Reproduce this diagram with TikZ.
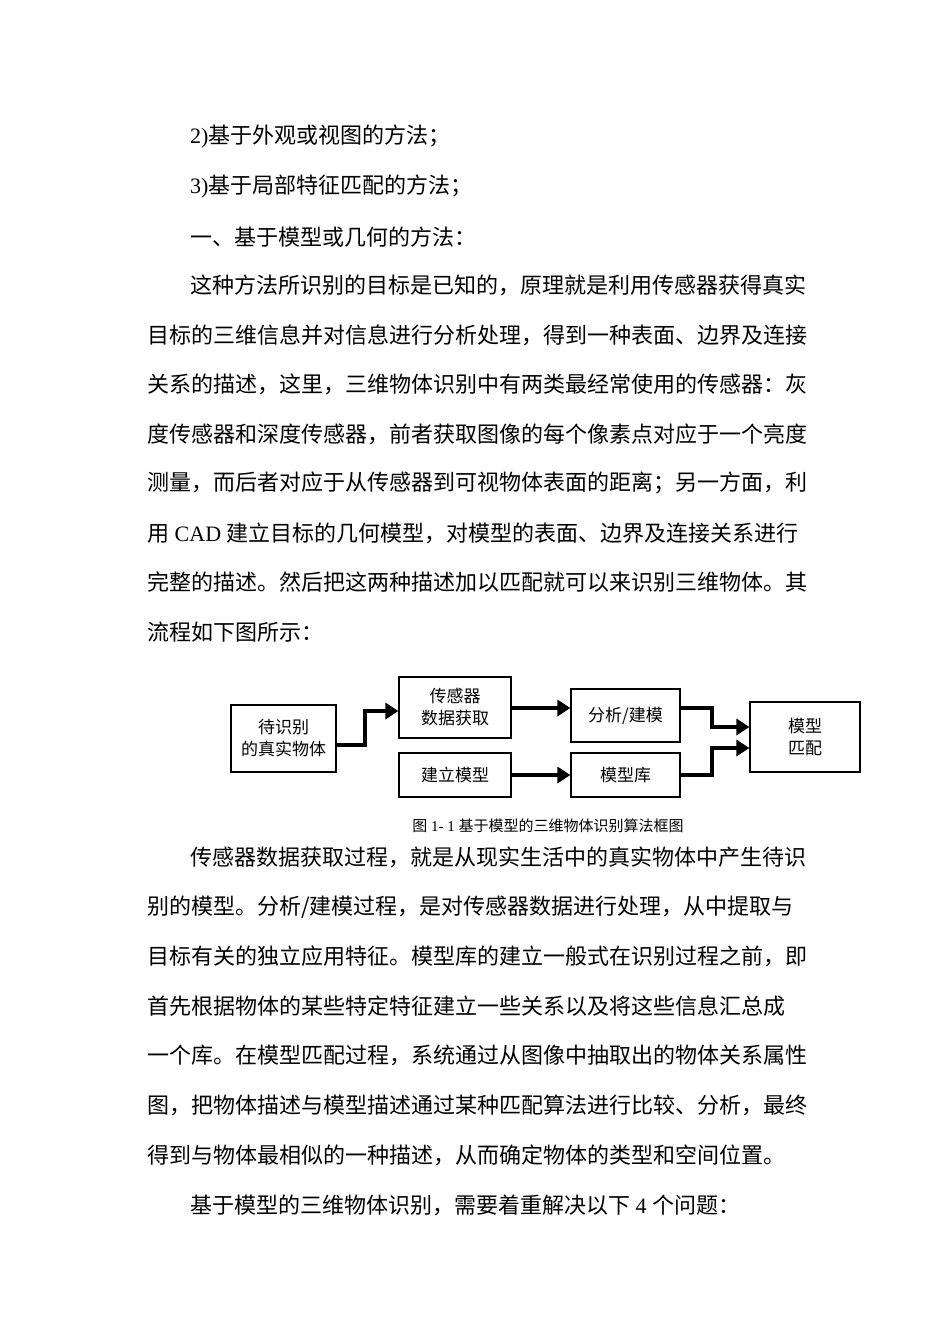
\documentclass[tikz,border=0pt]{standalone}
\usepackage{fontspec}
\setmainfont{Noto Sans CJK SC}
\newfontfamily\lat{Liberation Serif}
\usetikzlibrary{arrows.meta}
\begin{document}
\begin{tikzpicture}[x=1pt,y=-1pt,
  tl/.style={anchor=west,inner sep=0pt,font=\fontsize{22}{22}\selectfont},
  bx/.style={draw,line width=1.2pt,minimum width=#1,align=center,inner sep=0pt,font=\fontsize{17}{22}\selectfont},
  ar/.style={line width=4.5pt,-{Triangle[length=13pt,width=16pt]}}]
\useasboundingbox (0,0) rectangle (950,1344);
\node[tl] (l1) at (190,137) {{\lat 2)}基于外观或视图的方法；};
\node[tl] (l2) at (190,187) {{\lat 3)}基于局部特征匹配的方法；};
\node[tl] (l3) at (190,237) {一、基于模型或几何的方法：};
\node[tl] (l4) at (190,285) {这种方法所识别的目标是已知的，原理就是利用传感器获得真实};
\node[tl] (l5) at (147,335) {目标的三维信息并对信息进行分析处理，得到一种表面、边界及连接};
\node[tl] (l6) at (147,384) {关系的描述，这里，三维物体识别中有两类最经常使用的传感器：灰};
\node[tl] (l7) at (147,434) {度传感器和深度传感器，前者获取图像的每个像素点对应于一个亮度};
\node[tl] (l8) at (147,483) {测量，而后者对应于从传感器到可视物体表面的距离；另一方面，利};
\node[tl] (l9) at (147,533) {用{\lat\ CAD }建立目标的几何模型，对模型的表面、边界及连接关系进行};
\node[tl] (l10) at (147,582) {完整的描述。然后把这两种描述加以匹配就可以来识别三维物体。其};
\node[tl] (l11) at (147,632) {流程如下图所示：};
\node[tl] (m1) at (190,857) {传感器数据获取过程，就是从现实生活中的真实物体中产生待识};
\node[tl] (m2) at (147,907) {别的模型。分析/建模过程，是对传感器数据进行处理，从中提取与};
\node[tl] (m3) at (147,956) {目标有关的独立应用特征。模型库的建立一般式在识别过程之前，即};
\node[tl] (m4) at (147,1006) {首先根据物体的某些特定特征建立一些关系以及将这些信息汇总成};
\node[tl] (m5) at (147,1055) {一个库。在模型匹配过程，系统通过从图像中抽取出的物体关系属性};
\node[tl] (m6) at (147,1105) {图，把物体描述与模型描述通过某种匹配算法进行比较、分析，最终};
\node[tl] (m7) at (147,1155) {得到与物体最相似的一种描述，从而确定物体的类型和空间位置。};
\node[tl] (m8) at (190,1205) {基于模型的三维物体识别，需要着重解决以下{\lat\ 4 }个问题：};
% diagram
\node[bx=105pt,minimum height=67pt] (a) at (283.5,738.5) {待识别\\的真实物体};
\node[bx=112pt,minimum height=61pt] (b) at (455,707.5) {传感器\\数据获取};
\node[bx=109pt,minimum height=53pt] (c) at (625.5,715.5) {分析/建模};
\node[bx=112pt,minimum height=44pt] (d) at (455,775) {建立模型};
\node[bx=109pt,minimum height=44pt] (e) at (625.5,775) {模型库};
\node[bx=110pt,minimum height=70pt] (f) at (805,737) {模型\\匹配};
\coordinate (j1) at (365,745); \coordinate (j2) at (365,711);
\coordinate (j3) at (712,708); \coordinate (j4) at (712,727);
\coordinate (j5) at (712,775); \coordinate (j6) at (712,748);
\draw[ar] (a.east |- j1) -- (j1) -- (j2) -- (b.west |- j2);
\draw[ar] (b.east |- 0,708) -- (c.west |- 0,708);
\draw[ar] (c.east |- j3) -- (j3) -- (j4) -- (f.west |- j4);
\draw[ar] (d) -- (e);
\draw[ar] (e.east |- j5) -- (j5) -- (j6) -- (f.west |- j6);
\node[inner sep=0pt,font=\fontsize{15}{16}\selectfont] (cap) at (548,826) {图{\lat\ 1- 1 }基于模型的三维物体识别算法框图};
\end{tikzpicture}
\end{document}
